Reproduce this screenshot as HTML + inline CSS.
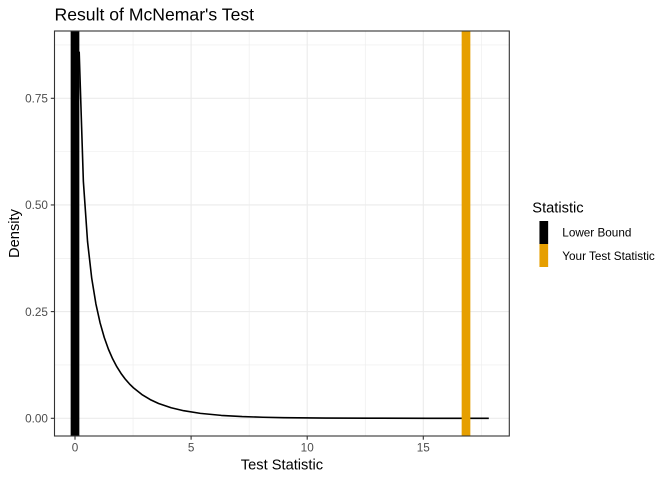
<!DOCTYPE html>
<html>
<head>
<meta charset="utf-8">
<style>
  html, body { margin: 0; padding: 0; background: #ffffff; }
  svg { display: block; }
  text { font-family: "Liberation Sans", Arial, sans-serif; }
</style>
</head>
<body>
<svg width="672" height="480" viewBox="0 0 672 480" xmlns="http://www.w3.org/2000/svg">
  <rect x="0" y="0" width="672" height="480" fill="#ffffff"/>

  <!-- panel background -->
  <rect x="54.5" y="31" width="454.8" height="405" fill="#ffffff"/>

  <!-- minor grid -->
  <g stroke="#EBEBEB" stroke-width="0.55" fill="none">
    <line x1="133.05" y1="31" x2="133.05" y2="436"/>
    <line x1="249.15" y1="31" x2="249.15" y2="436"/>
    <line x1="365.25" y1="31" x2="365.25" y2="436"/>
    <line x1="481.35" y1="31" x2="481.35" y2="436"/>
    <line x1="54.5" y1="364.96" x2="509.3" y2="364.96"/>
    <line x1="54.5" y1="258.3" x2="509.3" y2="258.3"/>
    <line x1="54.5" y1="151.6" x2="509.3" y2="151.6"/>
    <line x1="54.5" y1="44.94" x2="509.3" y2="44.94"/>
  </g>
  <!-- major grid -->
  <g stroke="#EBEBEB" stroke-width="1.1" fill="none">
    <line x1="75" y1="31" x2="75" y2="436"/>
    <line x1="191.1" y1="31" x2="191.1" y2="436"/>
    <line x1="307.2" y1="31" x2="307.2" y2="436"/>
    <line x1="423.3" y1="31" x2="423.3" y2="436"/>
    <line x1="54.5" y1="418.3" x2="509.3" y2="418.3"/>
    <line x1="54.5" y1="311.6" x2="509.3" y2="311.6"/>
    <line x1="54.5" y1="204.95" x2="509.3" y2="204.95"/>
    <line x1="54.5" y1="98.3" x2="509.3" y2="98.3"/>
  </g>

  <!-- density curve -->
  <polyline fill="none" stroke="#000000" stroke-width="1.6" stroke-linejoin="round"
    points="79.18,51.6 83.36,181.3 87.54,241.5 91.72,278.3 95.90,303.9 100.08,322.8 104.26,337.5 108.44,349.25 112.62,358.8 116.80,366.7 120.98,373.35 125.16,378.97 129.34,383.76 133.52,387.88 141.88,394.53 150.24,399.59 158.6,403.47 171.14,407.74 183.68,410.72 200.4,413.38 221.3,415.39 242.2,416.57 263.1,417.26 284.0,417.67 325.8,418.07 367.6,418.21 430.3,418.29 488.8,418.3"/>

  <!-- vlines -->
  <rect x="70.65" y="31" width="8.7" height="405" fill="#000000"/>
  <rect x="461.65" y="31" width="8.7" height="405" fill="#E69F00"/>

  <!-- panel border -->
  <rect x="54.5" y="31" width="454.8" height="405" fill="none" stroke="#333333" stroke-width="1.1"/>

  <!-- ticks -->
  <g stroke="#333333" stroke-width="1.1">
    <line x1="75" y1="436" x2="75" y2="439.7"/>
    <line x1="191.1" y1="436" x2="191.1" y2="439.7"/>
    <line x1="307.2" y1="436" x2="307.2" y2="439.7"/>
    <line x1="423.3" y1="436" x2="423.3" y2="439.7"/>
    <line x1="50.8" y1="418.3" x2="54.5" y2="418.3"/>
    <line x1="50.8" y1="311.6" x2="54.5" y2="311.6"/>
    <line x1="50.8" y1="204.95" x2="54.5" y2="204.95"/>
    <line x1="50.8" y1="98.3" x2="54.5" y2="98.3"/>
  </g>

  <!-- tick labels -->
  <g fill="#4D4D4D" font-size="11.73">
    <text x="75" y="451.7" text-anchor="middle">0</text>
    <text x="191.1" y="451.7" text-anchor="middle">5</text>
    <text x="307.2" y="451.7" text-anchor="middle">10</text>
    <text x="423.3" y="451.7" text-anchor="middle">15</text>
    <text x="47.9" y="422.5" text-anchor="end">0.00</text>
    <text x="47.9" y="315.8" text-anchor="end">0.25</text>
    <text x="47.9" y="209.15" text-anchor="end">0.50</text>
    <text x="47.9" y="102.5" text-anchor="end">0.75</text>
  </g>

  <!-- axis titles -->
  <text x="281.9" y="469.3" text-anchor="middle" font-size="14.67" fill="#000000">Test Statistic</text>
  <text transform="translate(18.8,233.5) rotate(-90)" text-anchor="middle" font-size="14.67" fill="#000000">Density</text>

  <!-- title -->
  <text x="54.5" y="20.7" font-size="17.6" fill="#000000">Result of McNemar's Test</text>

  <!-- legend -->
  <text x="532.3" y="212.7" font-size="14.67" fill="#000000">Statistic</text>
  <rect x="539.45" y="221" width="8.7" height="23" fill="#000000"/>
  <rect x="539.45" y="244" width="8.7" height="23" fill="#E69F00"/>
  <text x="562.3" y="236.5" font-size="11.73" fill="#000000">Lower Bound</text>
  <text x="562.3" y="259.8" font-size="11.73" fill="#000000">Your Test Statistic</text>
</svg>
</body>
</html>
